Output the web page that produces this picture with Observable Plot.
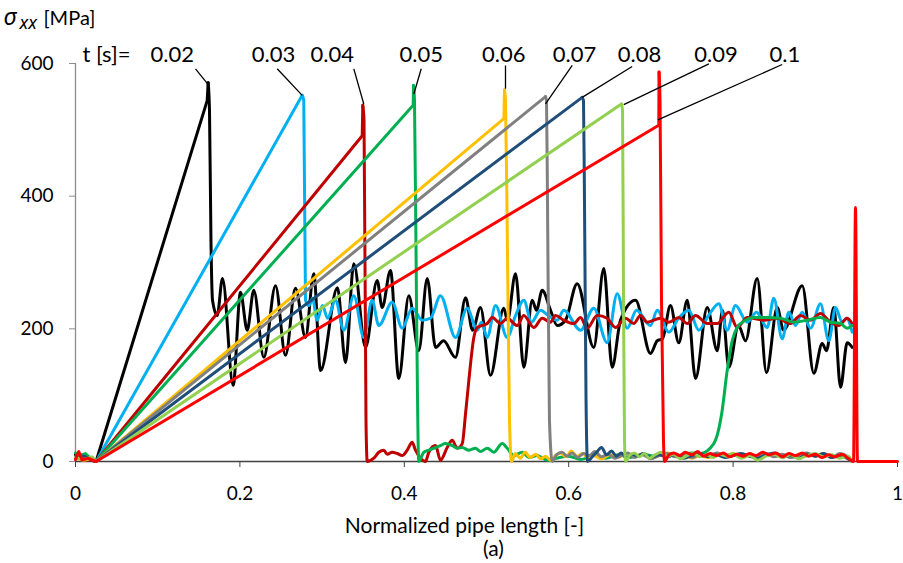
<!DOCTYPE html>
<html><head><meta charset="utf-8">
<script src="https://cdn.jsdelivr.net/npm/d3@7"></script>
<script src="https://cdn.jsdelivr.net/npm/@observablehq/plot@0.6"></script>
<style>body{margin:0;background:#fff}</style>
</head><body><div id="chart"></div>
<script>
const seriesNames = ["0.02","0.03","0.04","0.05","0.06","0.07","0.08","0.09","0.1"];
const seriesColors = ["#000000","#00B0F0","#C00000","#00B050","#FFC000","#808080","#1F4E79","#92D050","#FF0000"];
const xTicks = [0,0.2,0.4,0.6,0.8,1];
const xTickLabels = ["0","0.2","0.4","0.6","0.8","1"];
const yTicks = [0,200,400,600];

// series values [x, sigma_xx]
const t002 = [[0,10],[0.006,4],[0.012,9],[0.018,3],[0.025,0],[0.1602,544],[0.1614,571],[0.163,529],[0.1648,333],[0.1667,243],[0.1724,220],[0.1788,276],[0.1918,115],[0.2007,255],[0.2089,198],[0.2169,258],[0.2291,157],[0.2433,265],[0.2555,160],[0.2676,261],[0.2798,187],[0.2899,283],[0.2981,137],[0.3187,262],[0.3285,149],[0.3386,298],[0.3528,172],[0.367,273],[0.3731,232],[0.3832,288],[0.3933,125],[0.4055,250],[0.4176,167],[0.4279,276],[0.438,172],[0.4477,182],[0.4623,157],[0.4745,247],[0.483,198],[0.4927,232],[0.5049,130],[0.521,231],[0.5255,213],[0.5353,283],[0.5454,142],[0.5556,243],[0.5608,228],[0.5678,258],[0.5779,228],[0.586,205],[0.5961,213],[0.6103,268],[0.6305,172],[0.6427,291],[0.6529,142],[0.663,213],[0.6813,243],[0.6995,163],[0.7077,182],[0.7141,185],[0.7238,235],[0.7339,179],[0.7442,243],[0.7543,125],[0.7685,232],[0.7807,167],[0.7871,228],[0.7948,142],[0.8066,205],[0.8151,182],[0.8293,276],[0.8406,134],[0.8537,232],[0.8613,198],[0.8841,265],[0.8982,133],[0.9084,178],[0.9136,167],[0.9225,232],[0.9307,112],[0.9388,179],[0.9449,172]];
const t003 = [[0,6],[0.008,2],[0.015,6],[0.025,0],[0.2758,552],[0.2777,544],[0.2798,243],[0.2838,235],[0.2883,246],[0.294,213],[0.3005,235],[0.3066,216],[0.3163,243],[0.3264,198],[0.3386,250],[0.3507,187],[0.3609,243],[0.369,205],[0.3853,240],[0.3974,201],[0.4096,231],[0.4218,213],[0.4319,216],[0.444,250],[0.4623,187],[0.4765,231],[0.4887,198],[0.4939,210],[0.5009,187],[0.511,235],[0.5252,187],[0.5353,220],[0.5454,243],[0.5547,210],[0.5657,228],[0.5754,220],[0.586,213],[0.594,228],[0.6144,198],[0.6305,231],[0.6468,179],[0.659,253],[0.6712,201],[0.6825,228],[0.6995,205],[0.7077,228],[0.7218,195],[0.7336,216],[0.7461,228],[0.7583,198],[0.77,220],[0.7826,238],[0.7928,198],[0.8029,235],[0.8172,210],[0.8285,225],[0.8415,202],[0.8495,246],[0.8597,185],[0.8678,225],[0.8759,205],[0.8841,225],[0.8942,201],[0.9063,238],[0.9164,182],[0.9246,232],[0.9327,210],[0.938,216],[0.9449,195]];
const t004 = [[0,4],[0.008,10],[0.015,3],[0.025,0],[0.3488,491],[0.3495,537],[0.351,514],[0.3534,62],[0.3549,0],[0.3629,5],[0.369,14],[0.3751,17],[0.3792,11],[0.3853,14],[0.3914,12],[0.3974,9],[0.4035,17],[0.4096,29],[0.4136,17],[0.4197,5],[0.4258,0],[0.4298,14],[0.438,24],[0.444,2],[0.4522,21],[0.4583,32],[0.4644,20],[0.4705,27],[0.4745,72],[0.4785,122],[0.4846,187],[0.4887,202],[0.5009,208],[0.507,217],[0.517,208],[0.5252,216],[0.5373,205],[0.5454,220],[0.5576,202],[0.5678,216],[0.5779,210],[0.5839,220],[0.594,213],[0.6062,208],[0.6144,217],[0.6225,201],[0.6347,220],[0.6468,216],[0.6569,202],[0.6691,216],[0.6792,208],[0.6873,220],[0.6955,210],[0.7117,216],[0.7218,210],[0.7339,217],[0.7442,208],[0.7543,220],[0.7685,208],[0.7807,208],[0.7948,225],[0.805,202],[0.8172,217],[0.8374,213],[0.8537,216],[0.8698,208],[0.882,220],[0.8942,213],[0.9063,223],[0.9185,210],[0.9286,205],[0.9388,216],[0.9449,208]];
const t005 = [[0,13],[0.005,8],[0.012,12],[0.018,5],[0.025,0],[0.4108,537],[0.4112,567],[0.4124,544],[0.4148,243],[0.4176,0],[0.4237,14],[0.4298,17],[0.4359,20],[0.444,24],[0.4501,27],[0.4583,24],[0.4644,20],[0.4705,21],[0.4785,17],[0.4866,20],[0.4927,15],[0.5009,20],[0.5089,14],[0.5191,27],[0.5252,20],[0.5332,9],[0.5434,14],[0.5515,6],[0.5617,9],[0.5738,2],[0.585,5],[0.6,8],[0.615,3],[0.63,9],[0.645,5],[0.66,10],[0.675,6],[0.69,11],[0.705,8],[0.72,12],[0.735,9],[0.75,13],[0.76,12],[0.7765,27],[0.7847,62],[0.7867,77],[0.7928,137],[0.7989,182],[0.805,202],[0.8151,213],[0.8252,217],[0.8415,217],[0.8577,216],[0.8739,210],[0.8901,213],[0.9063,217],[0.9185,210],[0.9307,208],[0.9388,201],[0.9449,205]];
const t006 = [[0,5],[0.01,2],[0.02,4],[0.025,0],[0.5211,517],[0.5219,560],[0.5231,544],[0.5255,318],[0.528,62],[0.5304,0],[0.535,12],[0.541,5],[0.547,14],[0.553,6],[0.56,11],[0.566,4],[0.572,8],[0.578,2],[0.584,9],[0.59,13],[0.597,7],[0.603,16],[0.61,8],[0.617,12],[0.624,5],[0.63,9],[0.64,4],[0.65,10],[0.66,6],[0.67,12],[0.68,8],[0.69,11],[0.7,5],[0.71,9],[0.72,13],[0.73,7],[0.74,10],[0.75,5],[0.76,9],[0.77,6],[0.78,11],[0.79,8],[0.8,12],[0.81,7],[0.82,10],[0.83,5],[0.84,9],[0.85,12],[0.86,7],[0.87,10],[0.88,6],[0.89,11],[0.9,8],[0.91,12],[0.92,7],[0.93,9],[0.94,5],[0.945,0]];
const t007 = [[0,7],[0.01,3],[0.02,6],[0.025,0],[0.5718,550],[0.573,544],[0.5742,394],[0.5766,62],[0.5799,0],[0.585,10],[0.592,14],[0.598,8],[0.604,13],[0.611,6],[0.618,12],[0.625,9],[0.632,15],[0.64,7],[0.648,11],[0.656,5],[0.664,9],[0.672,13],[0.68,6],[0.69,10],[0.7,4],[0.71,9],[0.72,12],[0.73,7],[0.74,10],[0.75,6],[0.76,11],[0.77,8],[0.78,13],[0.79,9],[0.8,11],[0.81,6],[0.82,10],[0.83,8],[0.84,12],[0.85,7],[0.86,11],[0.87,6],[0.88,10],[0.89,13],[0.9,8],[0.91,11],[0.92,6],[0.93,12],[0.94,7],[0.945,0]];
const t008 = [[0,4],[0.01,8],[0.02,2],[0.025,0],[0.6164,549],[0.618,544],[0.6192,394],[0.6211,92],[0.6229,0],[0.628,6],[0.634,14],[0.64,21],[0.646,10],[0.652,16],[0.658,8],[0.664,13],[0.67,5],[0.677,11],[0.684,8],[0.69,12],[0.7,6],[0.71,10],[0.72,7],[0.73,11],[0.74,5],[0.75,9],[0.76,12],[0.77,7],[0.78,10],[0.79,6],[0.8,9],[0.81,12],[0.82,8],[0.83,5],[0.84,10],[0.85,13],[0.86,7],[0.87,9],[0.88,5],[0.89,11],[0.9,8],[0.91,12],[0.92,6],[0.93,9],[0.94,4],[0.945,0]];
const t009 = [[0,6],[0.01,3],[0.02,7],[0.025,0],[0.6642,539],[0.6655,529],[0.6667,243],[0.6679,32],[0.6691,0],[0.674,9],[0.68,13],[0.686,7],[0.692,12],[0.698,5],[0.705,10],[0.712,14],[0.72,8],[0.728,11],[0.736,4],[0.744,9],[0.752,12],[0.76,7],[0.768,10],[0.776,6],[0.784,11],[0.792,8],[0.8,12],[0.81,5],[0.82,9],[0.83,2],[0.84,8],[0.85,11],[0.86,6],[0.87,10],[0.88,4],[0.89,9],[0.9,12],[0.91,7],[0.92,10],[0.93,5],[0.94,8],[0.945,0]];
const t010 = [[0,3],[0.004,15],[0.008,2],[0.015,5],[0.025,0],[0.7096,507],[0.7099,587],[0.7111,544],[0.7129,243],[0.7153,32],[0.7165,0],[0.722,10],[0.728,13],[0.735,9],[0.742,14],[0.75,10],[0.757,15],[0.764,8],[0.772,12],[0.78,9],[0.788,13],[0.796,7],[0.804,11],[0.812,8],[0.82,12],[0.828,9],[0.836,14],[0.844,10],[0.852,13],[0.86,7],[0.868,12],[0.876,9],[0.884,13],[0.892,8],[0.9,11],[0.908,6],[0.916,10],[0.924,7],[0.932,11],[0.94,5],[0.9465,0],[0.9489,383],[0.9513,0],[1,0]];
const seriesData = [t002,t003,t004,t005,t006,t007,t008,t009,t010];

// label positions and leader lines (data units)
const labelX = [0.1176,0.2409,0.3123,0.4207,0.521,0.6071,0.6861,0.7792,0.8631];
const labelY = 603;
const leaderFrom = [[0.146,592],[0.2454,592],[0.3386,592],[0.4206,592],[0.5231,597],[0.6043,597],[0.6772,595.5],[0.7705,599.5],[0.8597,598.5]];
const leaderTo = [[0.1622,567],[0.2758,552],[0.3507,539],[0.4116,554],[0.5231,562],[0.5718,539],[0.6164,549],[0.667,538],[0.7084,515]];
const prefixLabel = {x: 0.0085, text: "t [s]="};

// straight loading ramp up to the peak, smooth record after it
const rampRows = [], restRows = [];
seriesData.forEach((s, i) => {
  const k = d3.maxIndex(s, (d) => d[1]);
  s.forEach(([x, y], j) => {
    if (j <= k) rampRows.push({series: seriesNames[i], order: i, x, y});
    if (j >= k) restRows.push({series: seriesNames[i], order: i, x, y});
  });
});
const labels = seriesNames.map((n, i) => ({text: n, x: labelX[i], y: labelY}));
const leaders = seriesNames.map((n, i) => ({x1: leaderFrom[i][0], y1: leaderFrom[i][1], x2: leaderTo[i][0], y2: leaderTo[i][1]}));

const font = "Lato, 'Open Sans', sans-serif";
const seriesMarks = seriesNames.flatMap((n) => [
  Plot.line(rampRows.filter((d) => d.series === n), {x: "x", y: "y", stroke: "series", strokeWidth: 3, curve: "linear"}),
  Plot.line(restRows.filter((d) => d.series === n), {x: "x", y: "y", stroke: "series", strokeWidth: 3, curve: "monotone-x"})
]);

const chart = Plot.plot({
  width: 903, height: 563,
  marginLeft: 75, marginRight: 6, marginTop: 63, marginBottom: 102,
  style: {fontFamily: font, background: "#fff", color: "#000"},
  x: {domain: [0, 1]},
  y: {domain: [0, 600]},
  color: {domain: seriesNames, range: seriesColors},
  marks: [
    Plot.ruleX([0], {stroke: "#8c8c8c", strokeWidth: 1.3}),
    Plot.axisY(yTicks, {tickSize: 6, tickPadding: 16, stroke: "#8c8c8c", fontSize: 19, label: null, fill: "#000"}),
    Plot.axisX(xTicks, {tickSize: 6, tickPadding: 19, stroke: "#404040", fontSize: 19, label: null, fill: "#000",
      tickFormat: (d) => xTickLabels[xTicks.indexOf(d)]}),
    Plot.ruleY([0], {stroke: "#404040", strokeWidth: 1.3}),
    ...seriesMarks,
    Plot.link(leaders, {x1: "x1", y1: "y1", x2: "x2", y2: "y2", stroke: "#000", strokeWidth: 1.3}),
    Plot.text(labels, {x: "x", y: "y", text: "text", fontSize: 22, lineAnchor: "bottom", fill: "#000"}),
    Plot.text([prefixLabel], {x: "x", y: () => labelY, text: "text", fontSize: 22, textAnchor: "start", lineAnchor: "bottom", fill: "#000"}),
    Plot.text(["Normalized pipe length [-]"], {frameAnchor: "bottom", dx: -22, dy: 71, lineAnchor: "bottom", fontSize: 21, fill: "#000"}),
    Plot.text(["(a)"], {frameAnchor: "bottom", dx: 7, dy: 94, lineAnchor: "bottom", fontSize: 21, fill: "#000"}),
    Plot.text(["σ"], {frameAnchor: "top-left", dx: -72, dy: -39, textAnchor: "start", lineAnchor: "bottom", fontSize: 23, fontStyle: "italic", fontFamily: "'Noto Sans', 'DejaVu Sans', sans-serif", fill: "#000"}),
    Plot.text(["xx"], {frameAnchor: "top-left", dx: -56, dy: -35, textAnchor: "start", lineAnchor: "bottom", fontSize: 18, fontStyle: "italic", fontFamily: "'Noto Sans', sans-serif", fill: "#000"}),
    Plot.text(["[MPa]"], {frameAnchor: "top-left", dx: -32, dy: -39, textAnchor: "start", lineAnchor: "bottom", fontSize: 20, fill: "#000"})
  ]
});
document.getElementById("chart").append(chart);
</script>
</body></html>
